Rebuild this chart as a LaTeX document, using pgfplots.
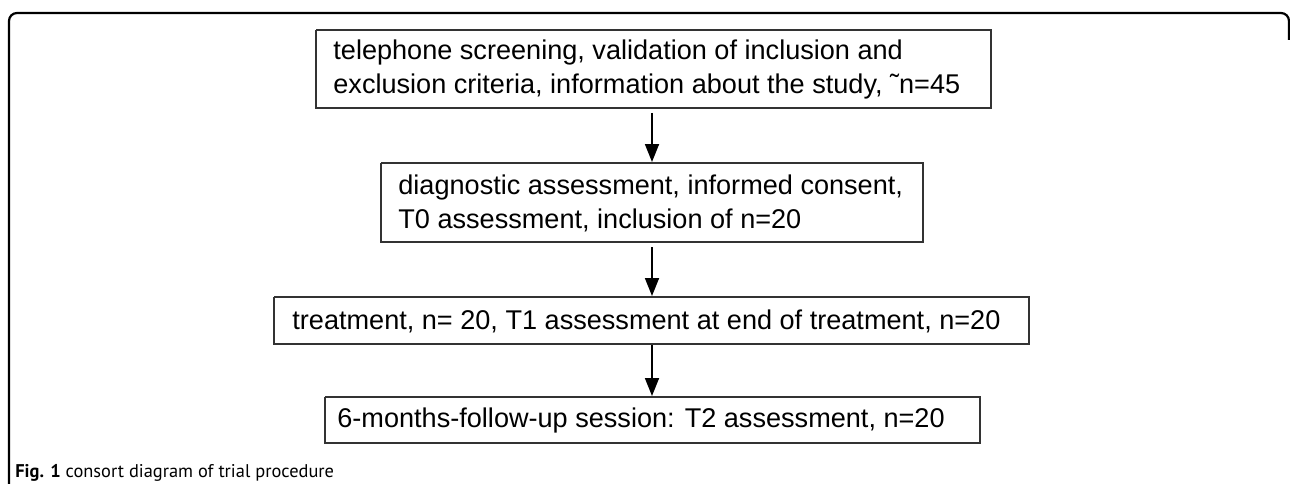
\documentclass[border=0pt]{standalone}
\usepackage{fontspec}
\setmainfont{Liberation Sans}
\newfontfamily\capfont{PT Sans}
\usepackage{pgfplots}
\pgfplotsset{compat=1.18}
\usetikzlibrary{arrows.meta}
\newcommand{\boxfont}{\fontsize{13.55bp}{17bp}\selectfont}
\begin{document}
\begin{tikzpicture}
\begin{axis}[
  width=645bp, height=242bp, scale only axis,
  xmin=0, xmax=1290, ymin=0, ymax=484, y dir=reverse,
  hide axis, clip=false,
]
% outer frame
\addplot[black, line width=1.1bp, rounded corners=4bp] coordinates {(9,490) (9,13) (1289,13) (1289,40)};
% boxes
\addplot[black!80, line width=0.9bp] coordinates {(316,30) (991,30) (991,108) (316,108) (316,30)};
\addplot[black!80, line width=0.9bp] coordinates {(381,163) (923,163) (923,242) (381,242) (381,163)};
\addplot[black!80, line width=0.9bp] coordinates {(274,297) (1029,297) (1029,344) (274,344) (274,297)};
\addplot[black!80, line width=0.9bp] coordinates {(325,397) (980,397) (980,443) (325,443) (325,397)};
% arrows
\addplot[black, line width=0.9bp, -{Triangle[width=7bp,length=9bp]}] coordinates {(652,113) (652,162)};
\addplot[black, line width=0.9bp, -{Triangle[width=7bp,length=9bp]}] coordinates {(652,247) (652,296)};
\addplot[black, line width=0.9bp, -{Triangle[width=7bp,length=9bp]}] coordinates {(652,345) (652,396)};
% texts
\node[anchor=west, align=left, inner sep=0pt, font=\boxfont] at (axis cs:333,69)
  {telephone screening, validation of inclusion and\\exclusion criteria, information about the study, ˜n=45};
\node[anchor=west, align=left, inner sep=0pt, font=\boxfont] at (axis cs:398,203)
  {diagnostic assessment, informed consent,\\T0 assessment, inclusion of n=20};
\node[anchor=west, align=left, inner sep=0pt, font=\boxfont] at (axis cs:292,321)
  {treatment, n= 20, T1 assessment at end of treatment, n=20};
\node[anchor=west, align=left, inner sep=0pt, font=\boxfont] at (axis cs:337,420)
  {6-months-follow-up session: T2 assessment, n=20};
% caption
\node[anchor=base west, inner sep=0pt, font=\capfont\fontsize{9.2bp}{11bp}\selectfont] at (axis cs:15,477)
  {\textbf{Fig. 1} consort diagram of trial procedure};
\end{axis}
\pgfresetboundingbox
\path[use as bounding box] (current axis.south west) rectangle (current axis.north east);
\end{tikzpicture}
\end{document}
